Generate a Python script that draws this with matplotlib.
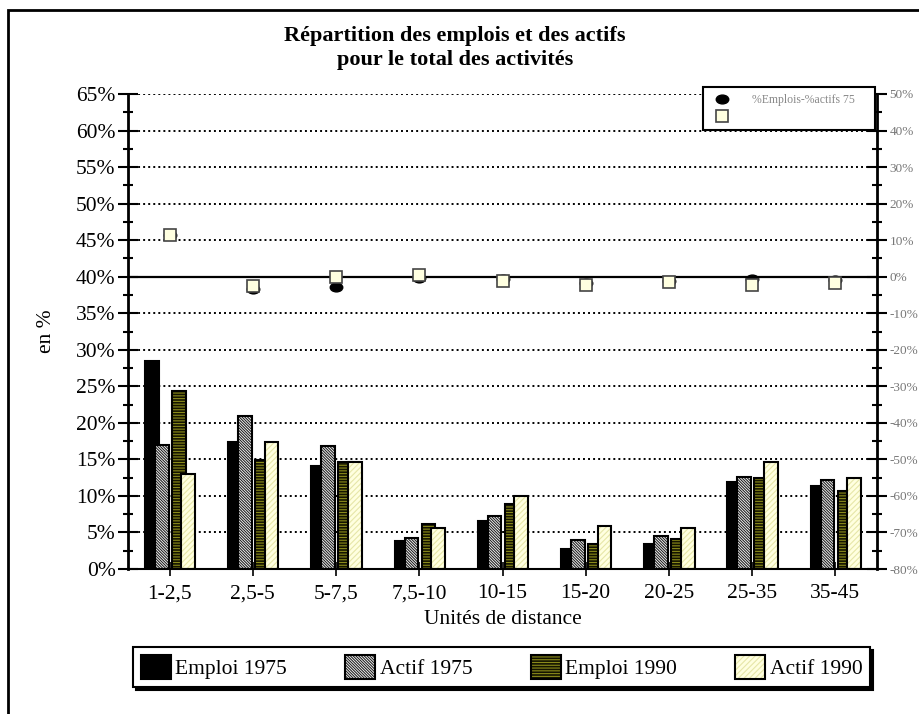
# Répartition des emplois et des actifs - bars (left axis) + differences (right axis)
import numpy as np
import matplotlib
matplotlib.use('Agg')
import matplotlib.pyplot as plt
from matplotlib.path import Path
from matplotlib.transforms import Affine2D
from matplotlib.patches import Rectangle
from matplotlib.ticker import MultipleLocator, FuncFormatter

plt.rcParams['font.family'] = ['Liberation Serif', 'DejaVu Serif']
plt.rcParams['hatch.linewidth'] = 0.8

# data
categories = ['1-2,5', '2,5-5', '5-7,5', '7,5-10', '10-15', '15-20', '20-25', '25-35', '35-45']
emploi75 = [28.5, 17.4, 14.1, 3.9, 6.6, 2.7, 3.4, 11.9, 11.4]
actif75 = [17.0, 20.9, 16.9, 4.2, 7.3, 4.0, 4.5, 12.6, 12.2]
emploi90 = [24.4, 14.9, 14.7, 6.15, 8.9, 3.4, 4.1, 12.5, 10.7]
actif90 = [13.0, 17.4, 14.7, 5.65, 10.0, 5.9, 5.6, 14.7, 12.5]
diff75 = [11.5, -3.5, -2.8, -0.4, -0.7, -1.6, -1.1, -0.6, -0.8]
diff90 = [11.3, -2.6, 0.0, 0.5, -1.2, -2.4, -1.5, -2.2, -1.7]
series_names = ['Emploi 1975', 'Actif 1975', 'Emploi 1990', 'Actif 1990']

W, H = 919, 714
fig = plt.figure(figsize=(W / 100, H / 100), dpi=100)
ax = fig.add_axes([128 / W, 1 - 569 / H, 749 / W, 475 / H])

x = np.arange(len(categories))
offsets = [-0.215, -0.095, 0.11, 0.225]
width = 0.165
styles = [
    dict(color='black', edgecolor='black', hatch=None),
    dict(color='white', edgecolor='#222222', hatch='\\' * 12),
    dict(color='#141400', edgecolor='#8a8a1a', hatch='-' * 6),
    dict(color='#ffffe0', edgecolor='#e6e6a8', hatch='/' * 6),
]

handles = []
for vals, off, st in zip([emploi75, actif75, emploi90, actif90], offsets, styles):
    b1 = ax.bar(x + off, vals, width, color=st['color'], edgecolor=st['edgecolor'],
                hatch=st['hatch'], linewidth=0, zorder=2)
    b2 = ax.bar(x + off, vals, width, fill=False, edgecolor='black', linewidth=1.5, zorder=2)
    handles.append((b1, b2))

ax.set_xlim(-0.5, len(categories) - 0.5)
ax.set_ylim(0, 65)
ax.set_xticks(x)
ax.set_xticklabels(categories, fontsize=15.5)
ax.yaxis.set_major_locator(MultipleLocator(5))
ax.yaxis.set_minor_locator(MultipleLocator(2.5))
ax.yaxis.set_major_formatter(FuncFormatter(lambda v, p: f'{v:.0f}%'))
ax.tick_params(axis='y', which='major', direction='inout', length=14, width=1.5, labelsize=15.5, pad=2)
ax.tick_params(axis='y', which='minor', direction='inout', length=7, width=1.5)
ax.tick_params(axis='x', direction='inout', length=10, width=1.2, pad=6)
ax.yaxis.grid(True, linestyle=(0, (1, 1.6)), linewidth=1.4, color='black')
ax.set_axisbelow(True)
for s in ['top', 'right']:
    ax.spines[s].set_visible(False)
ax.spines['left'].set_linewidth(2)
ax.spines['bottom'].set_linewidth(1.5)
ax.set_ylabel('en %', fontsize=15.5, labelpad=14)
ax.set_xlabel('Unités de distance', fontsize=15.5, labelpad=5)

# right axis: differences
ax2 = ax.twinx()
ax2.set_ylim(-80, 50)
ax2.yaxis.set_major_locator(MultipleLocator(10))
ax2.yaxis.set_minor_locator(MultipleLocator(5))
ax2.yaxis.set_major_formatter(FuncFormatter(lambda v, p: f'{v:.0f}%'))
ax2.tick_params(axis='y', which='major', direction='inout', length=14, width=1.5,
                labelsize=9.5, labelcolor='#777777', pad=2)
ax2.tick_params(axis='y', which='minor', direction='inout', length=7, width=1.5)
for s in ['top', 'left', 'bottom']:
    ax2.spines[s].set_visible(False)
ax2.spines['right'].set_linewidth(2)
ax2.axhline(0, color='black', linewidth=1.6, zorder=1)

ellipse = Path.unit_circle().transformed(Affine2D().scale(1.35, 0.95))
ln75, = ax2.plot(x, diff75, linestyle='none', marker=ellipse, markersize=9,
                 markerfacecolor='black', markeredgecolor='black', zorder=3)
ln90, = ax2.plot(x, diff90, linestyle='none', marker='s', markersize=8,
                 markerfacecolor='#ffffe0', markeredgecolor='#444444', markeredgewidth=1.2, zorder=4)

leg2 = ax2.legend([ln75, ln90], ['%Emplois-%actifs 75', ' '], loc='upper left',
                  bbox_to_anchor=(0.768, 0.928, 0.2296, 0.0863), mode='expand',
                  fontsize=8.5, labelcolor='#888888', frameon=True, fancybox=False,
                  edgecolor='black', framealpha=1, borderaxespad=0, borderpad=0.55,
                  handlelength=2.0, handletextpad=1.6, labelspacing=0.45)
leg2.get_frame().set_linewidth(1.5)

# title
fig.text(455 / W, 1 - 48 / H, 'Répartition des emplois et des actifs\npour le total des activités',
         ha='center', va='center', fontsize=16, fontweight='bold', linespacing=1.2)

# bottom legend
leg = fig.legend(handles, series_names, loc='center', ncol=4, mode='expand',
                 bbox_to_anchor=(133 / W, 1 - 690 / H, 737 / W, 46 / H),
                 fontsize=15.5, frameon=True, fancybox=False, edgecolor='black', framealpha=1,
                 borderaxespad=0, borderpad=0.35, handlelength=1.4, handleheight=1.4,
                 handletextpad=0.2, columnspacing=1.0,
                 shadow={'color': 'black', 'alpha': 1})
leg.get_frame().set_linewidth(1.5)

# outer frame of the chart area
fig.add_artist(Rectangle((8 / W, -0.1), 2.0, 0.1 + 1 - 10 / H, transform=fig.transFigure,
                         fill=False, edgecolor='black', linewidth=2))

fig.savefig('out.png', dpi=100)
